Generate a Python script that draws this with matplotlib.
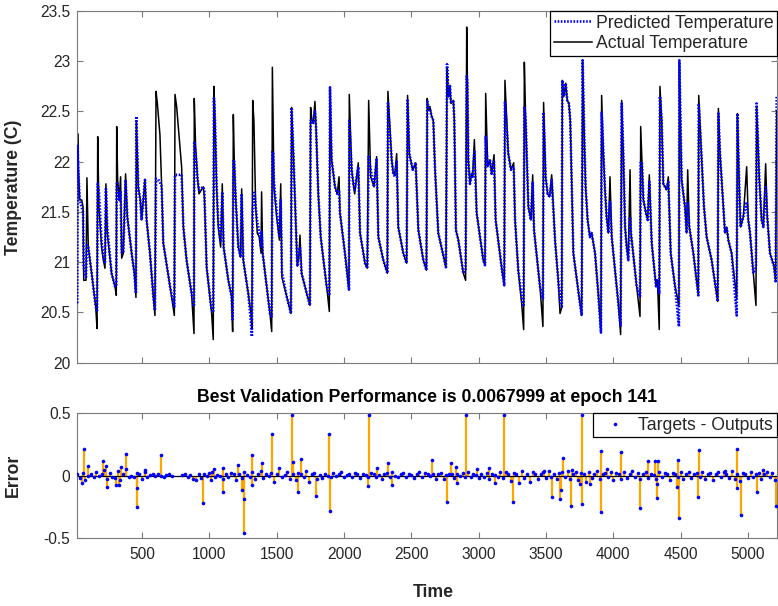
import numpy as np
import matplotlib
matplotlib.use("Agg")
import matplotlib.pyplot as plt
from matplotlib.ticker import FuncFormatter

plt.rcParams['font.family'] = ['Liberation Sans', 'DejaVu Sans']

# ---------------- data ----------------
# time stamps of the line vertices (shared by both temperature traces)
time = [
    15, 19, 22, 27, 37, 52, 62, 67, 84, 91, 101, 126, 156, 166,
    171, 180, 200, 213, 225, 232, 242, 274, 299, 309,
    312, 319, 331, 341, 349, 361, 378, 391, 423, 443, 455,
    458, 472, 487, 497, 522, 534, 559, 584, 596,
    604, 614, 633, 646, 658, 708, 740,
    745, 757, 777, 794, 807, 831, 868, 886,
    888, 898, 913, 923, 955, 963, 980, 1017, 1029,
    1034, 1042, 1054, 1066, 1084, 1096, 1106, 1141, 1165, 1173,
    1178, 1185, 1195, 1215, 1232, 1240, 1252, 1289, 1309, 1316,
    1322, 1331, 1336, 1344, 1356, 1371, 1384, 1388, 1396, 1426, 1450, 1463,
    1468, 1473, 1480, 1500, 1520, 1530, 1539, 1574, 1606,
    1611, 1624, 1641, 1653, 1666, 1673, 1685, 1723, 1747,
    1752, 1762, 1772, 1784, 1792, 1809, 1827, 1871, 1891,
    1896, 1908, 1933, 1950, 1963, 1970, 2007, 2037,
    2039, 2057, 2069, 2079, 2106, 2119, 2156, 2173,
    2183, 2198, 2223, 2242, 2255, 2292, 2322,
    2326, 2354, 2366, 2378, 2391, 2403, 2440, 2465,
    2472, 2485, 2510, 2532, 2552, 2589, 2612,
    2618, 2626, 2638, 2651, 2663, 2676, 2700, 2750, 2757,
    2765, 2775, 2787, 2794, 2812, 2819, 2831, 2849, 2886, 2903,
    2911, 2916, 2923, 2935, 2948, 2955, 2968, 2985, 3034, 3047,
    3052, 3067, 3084, 3096, 3114, 3126, 3176, 3190,
    3195, 3220, 3240, 3260, 3270, 3294, 3319, 3334,
    3339, 3349, 3369, 3388, 3401, 3411, 3455, 3477,
    3482, 3497, 3512, 3527, 3542, 3567, 3591, 3604, 3617,
    3621, 3633, 3646, 3658, 3670, 3680, 3703, 3752, 3765,
    3772, 3784, 3794, 3809, 3826, 3839, 3864, 3888, 3908,
    3913, 3926, 3938, 3950, 3963, 3975, 3988, 4000, 4037, 4054,
    4062, 4074, 4087, 4099, 4111, 4124, 4131, 4173, 4198,
    4203, 4213, 4223, 4242, 4255, 4267, 4285, 4317, 4327, 4341,
    4346, 4359, 4371, 4396, 4408, 4426, 4458, 4487,
    4490, 4507, 4532, 4544, 4552, 4564, 4594, 4631,
    4634, 4656, 4673, 4693, 4730, 4775,
    4780, 4792, 4804, 4829, 4841, 4854, 4878, 4916,
    4921, 4935, 4945, 4965, 4990, 5002, 5015, 5039, 5059,
    5064, 5084, 5101, 5114, 5131, 5143, 5163, 5193, 5205, 5213,
]

actual_temp = [
    20.60, 20.31, 22.28, 21.98, 21.62, 21.62, 21.55, 20.82, 20.82, 21.84, 21.15, 20.89, 20.56, 20.34,
    22.25, 21.55, 21.15, 21.02, 20.94, 21.78, 21.29, 20.89, 20.76, 20.67,
    22.35, 21.82, 21.62, 21.85, 21.04, 21.09, 21.88, 21.45, 21.09, 20.89, 20.65,
    22.40, 21.75, 21.62, 21.42, 21.82, 21.42, 21.09, 20.66, 20.47,
    22.70, 22.58, 22.27, 21.75, 21.19, 20.76, 20.47,
    22.67, 22.55, 22.22, 21.95, 21.35, 21.02, 20.69, 20.29,
    22.63, 22.15, 21.82, 21.68, 21.75, 21.65, 20.95, 20.49, 20.23,
    22.75, 22.41, 21.75, 21.35, 21.15, 21.78, 21.15, 20.82, 20.66, 20.31,
    22.47, 22.02, 21.65, 21.15, 21.05, 21.73, 21.02, 20.69, 20.49, 20.34,
    22.61, 22.41, 22.08, 21.55, 21.29, 21.25, 21.09, 21.70, 21.09, 20.76, 20.49, 20.31,
    22.94, 22.46, 21.75, 21.45, 21.22, 21.78, 20.85, 20.66, 20.49,
    22.54, 22.08, 21.42, 20.96, 21.09, 21.27, 20.89, 20.69, 20.57,
    22.54, 22.41, 22.38, 22.60, 22.35, 21.68, 21.25, 20.76, 20.51,
    22.74, 22.02, 21.75, 21.68, 21.85, 21.49, 21.09, 20.72,
    22.67, 21.92, 21.78, 21.68, 21.99, 21.29, 20.99, 20.94,
    22.61, 21.85, 21.75, 22.05, 21.25, 21.02, 20.89,
    22.70, 22.02, 21.88, 21.88, 22.08, 21.35, 21.09, 20.99,
    22.66, 22.08, 21.92, 21.99, 21.32, 21.02, 20.92,
    22.63, 22.51, 22.55, 22.45, 22.41, 21.92, 21.29, 20.99, 20.95,
    22.93, 22.65, 22.76, 22.58, 22.61, 22.41, 21.32, 21.22, 20.89, 20.82,
    23.34, 22.85, 22.02, 21.78, 21.88, 21.85, 22.22, 21.49, 21.02, 20.97,
    22.68, 21.95, 22.02, 21.88, 22.07, 21.42, 20.89, 20.77,
    22.81, 22.08, 21.92, 21.99, 21.42, 20.92, 20.59, 20.33,
    22.99, 22.41, 21.55, 21.42, 21.87, 21.32, 20.76, 20.36,
    22.59, 21.85, 21.68, 21.65, 21.87, 21.22, 20.82, 20.49, 20.55,
    22.81, 22.65, 22.78, 22.61, 22.58, 22.41, 21.09, 20.59, 20.47,
    23.00, 22.25, 21.75, 21.42, 21.25, 21.29, 21.09, 20.69, 20.30,
    22.66, 22.08, 21.72, 21.45, 21.29, 21.85, 21.25, 21.09, 20.59, 20.28,
    22.61, 22.08, 21.35, 21.15, 21.02, 21.92, 21.29, 20.76, 20.46,
    22.35, 21.98, 21.62, 21.49, 21.42, 21.87, 21.19, 20.76, 20.82, 20.33,
    22.75, 22.41, 21.78, 21.72, 21.85, 21.09, 20.76, 20.57,
    23.00, 21.82, 21.55, 21.29, 21.92, 21.35, 21.09, 20.67,
    22.66, 22.02, 21.55, 21.25, 21.02, 20.61,
    22.53, 22.08, 21.82, 21.29, 21.35, 21.22, 21.09, 20.64,
    22.48, 21.75, 21.35, 21.45, 21.95, 21.42, 21.29, 20.89, 20.57,
    22.55, 21.82, 21.42, 21.35, 21.98, 21.45, 21.09, 20.96, 20.81, 22.50,
]

predicted_temp = [
    20.60, 20.60, 22.17, 21.90, 21.62, 21.55, 21.50, 20.95, 20.85, 21.17, 21.15, 20.89, 20.56, 20.52,
    21.78, 21.70, 21.20, 21.05, 21.00, 21.73, 21.35, 20.89, 20.76, 20.76,
    21.78, 21.78, 21.62, 21.70, 21.10, 21.09, 21.82, 21.45, 21.09, 20.89, 20.69,
    22.45, 21.75, 21.62, 21.42, 21.82, 21.42, 21.09, 20.66, 20.52,
    21.83, 21.83, 21.80, 21.75, 21.19, 20.76, 20.55,
    21.87, 21.87, 21.87, 21.87, 21.35, 21.02, 20.69, 20.56,
    22.20, 22.10, 21.82, 21.72, 21.75, 21.70, 20.95, 20.52, 20.50,
    22.63, 22.41, 21.75, 21.40, 21.20, 21.70, 21.15, 20.82, 20.66, 20.43,
    22.02, 22.00, 21.65, 21.15, 21.05, 21.68, 21.02, 20.69, 20.40, 20.26,
    21.50, 21.69, 21.69, 21.55, 21.40, 21.30, 21.15, 21.30, 21.09, 20.76, 20.49, 20.46,
    22.10, 22.10, 21.80, 21.50, 21.25, 21.62, 20.90, 20.66, 20.49,
    22.54, 22.08, 21.42, 20.96, 21.09, 21.15, 20.89, 20.69, 20.57,
    22.41, 22.41, 22.38, 22.50, 22.35, 21.68, 21.25, 20.76, 20.67,
    22.74, 22.02, 21.75, 21.68, 21.72, 21.49, 21.09, 20.72,
    22.41, 21.92, 21.78, 21.72, 21.95, 21.29, 20.99, 20.94,
    22.05, 21.92, 21.75, 22.02, 21.25, 21.02, 20.89,
    22.58, 22.02, 21.88, 21.85, 22.00, 21.35, 21.09, 20.99,
    22.61, 22.08, 21.92, 21.99, 21.32, 21.02, 20.92,
    22.60, 22.55, 22.52, 22.45, 22.41, 21.92, 21.29, 20.99, 20.95,
    22.97, 22.65, 22.76, 22.58, 22.61, 22.41, 21.32, 21.22, 20.89, 20.92,
    22.85, 22.80, 22.02, 21.78, 21.88, 21.85, 22.10, 21.49, 21.02, 20.97,
    22.25, 21.95, 22.02, 21.88, 22.00, 21.42, 20.89, 20.77,
    22.60, 22.08, 21.92, 21.95, 21.42, 20.92, 20.65, 20.56,
    22.55, 22.41, 21.55, 21.42, 21.80, 21.32, 20.76, 20.64,
    22.49, 21.85, 21.68, 21.65, 21.82, 21.22, 20.82, 20.62, 20.56,
    22.81, 22.65, 22.78, 22.61, 22.58, 22.41, 21.09, 20.59, 20.47,
    23.01, 22.25, 21.75, 21.42, 21.25, 21.29, 21.09, 20.69, 20.30,
    22.49, 22.08, 21.72, 21.45, 21.29, 21.60, 21.25, 21.09, 20.59, 20.36,
    22.58, 22.08, 21.35, 21.15, 21.02, 21.45, 21.29, 20.76, 20.66,
    22.00, 21.98, 21.62, 21.49, 21.42, 21.80, 21.19, 20.76, 20.82, 20.69,
    22.65, 22.41, 21.78, 21.72, 21.80, 21.09, 20.76, 20.36,
    23.01, 21.82, 21.55, 21.29, 21.60, 21.35, 21.09, 20.67,
    22.58, 22.02, 21.55, 21.25, 21.02, 20.61,
    22.48, 22.08, 21.82, 21.29, 21.35, 21.22, 21.09, 20.47,
    22.48, 21.75, 21.35, 21.45, 21.60, 21.42, 21.29, 20.89, 20.95,
    22.58, 21.82, 21.42, 21.35, 21.75, 21.45, 21.09, 20.96, 20.81, 22.65,
]

# large prediction errors (targets - outputs)
spike_time = [
    52, 69, 101, 213, 232, 237, 305, 329, 341, 381, 460, 465, 522, 638,
    955, 1012, 1034, 1099, 1104, 1215, 1245, 1255, 1260, 1316, 1319, 1388,
    1463, 1614, 1618, 1656, 1678, 1792, 1891, 1895, 2180, 2185, 2242, 2329,
    2354, 2651, 2767, 2794, 2832, 2836, 2906, 2985, 3079, 3121, 3190, 3257,
    3485, 3542, 3604, 3611, 3624, 3683, 3695, 3752, 3764, 3769, 3826, 3906,
    3910, 3950, 4054, 4198, 4260, 4309, 4321, 4326, 4334, 4470, 4482, 4485,
    4631, 4638, 4829, 4915, 4920, 4945, 5064, 5108, 5207,
]
spike_error = [
    -0.06, 0.21, 0.076, 0.117, 0.08, -0.09, -0.075, -0.075, 0.065, 0.173, -0.25, -0.10, 0.045, 0.165,
    -0.218, -0.035, 0.05, -0.13, 0.06, 0.085, -0.115, -0.465, -0.19, -0.08, 0.165, 0.10,
    0.334, 0.49, 0.11, -0.13, 0.13, -0.165, 0.33, -0.285, -0.085, 0.49, 0.06, 0.10,
    -0.075, 0.125, -0.21, 0.10, 0.065, -0.06, 0.49, 0.05, 0.06, -0.06, 0.49, -0.21,
    0.04, -0.17, -0.19, -0.12, 0.14, -0.245, 0.045, -0.065, 0.49, -0.23, -0.065, 0.20,
    -0.29, 0.05, 0.19, -0.265, 0.117, 0.12, -0.065, -0.183, 0.117, -0.09, 0.125, -0.345,
    -0.17, 0.205, 0.04, 0.21, -0.10, -0.32, -0.13, 0.045, -0.245,
]

# small residual errors on a regular 20-step sampling grid
residual_start, residual_step = 20, 20
residual_error = [
    0.010, -0.020, 0.020, -0.040, 0.000, 0.015, -0.010, 0.030, -0.005, 0.010,
    0.045, -0.030, 0.020, -0.010, -0.020, 0.035, -0.040, 0.010, 0.050, -0.015,
    0.000, -0.010, 0.020, 0.010, -0.030, 0.030, -0.010, 0.005, 0.015, -0.005,
    0.010, 0.000, -0.010, 0.005, 0.010, -0.005, np.nan, np.nan, np.nan, 0.005,
    0.010, -0.015, 0.005, -0.025, -0.035, 0.010, -0.020, 0.015, -0.005, 0.020,
    0.025, -0.010, 0.005, 0.000, -0.030, 0.010, -0.015, 0.020, 0.010, -0.040,
    0.015, -0.020, 0.030, 0.005, -0.010, 0.025, -0.030, 0.010, 0.040, -0.020,
    0.015, -0.005, 0.020, -0.050, 0.010, 0.060, -0.015, 0.005, 0.030, -0.025,
    0.010, -0.040, 0.020, 0.015, -0.010, 0.035, -0.055, 0.010, 0.020, -0.030,
    0.005, -0.020, 0.015, 0.000, -0.010, 0.020, -0.005, 0.010, 0.030, -0.015,
    0.005, 0.010, -0.010, 0.020, 0.015, -0.020, 0.010, 0.005, -0.015, 0.020,
    0.010, -0.010, 0.005, -0.025, 0.015, 0.020, -0.010, 0.025, 0.000, -0.015,
    0.010, 0.020, -0.010, 0.015, 0.005, -0.020, 0.010, 0.030, -0.010, 0.020,
    0.010, -0.005, 0.015, -0.025, 0.010, 0.020, -0.030, 0.005, 0.015, 0.010,
    -0.020, 0.010, -0.005, 0.020, -0.015, 0.025, -0.010, 0.010, 0.005, -0.020,
    0.015, -0.010, 0.020, -0.030, 0.010, 0.005, -0.015, 0.025, -0.020, 0.030,
    0.015, -0.045, 0.020, 0.010, -0.060, 0.035, -0.020, 0.010, -0.050, 0.025,
    0.015, -0.030, 0.010, 0.030, -0.020, 0.040, -0.010, 0.015, -0.025, 0.020,
    0.030, -0.010, 0.040, -0.030, 0.010, 0.025, -0.040, 0.020, 0.015, -0.050,
    0.030, -0.020, 0.010, 0.040, -0.030, 0.015, 0.020, -0.015, 0.030, -0.040,
    0.020, 0.010, -0.030, 0.025, -0.020, 0.015, 0.040, -0.010, 0.020, -0.030,
    0.010, 0.030, -0.020, 0.015, 0.005, -0.025, 0.030, -0.010, 0.020, 0.010,
    -0.035, 0.020, 0.010, -0.015, 0.025, -0.030, 0.015, 0.030, -0.020, 0.010,
    0.020, -0.010, 0.030, -0.025, 0.015, 0.020, -0.040, 0.010, 0.025, -0.015,
    0.030, 0.010, -0.020, 0.040, -0.030, 0.015, -0.045, 0.020, 0.010, -0.020,
    0.030, -0.015, 0.010, 0.020, -0.030, 0.015, 0.025, -0.010, 0.020, -0.035,
]
residual_time = residual_start + residual_step * np.arange(len(residual_error))

x_ticks = [500, 1000, 1500, 2000, 2500, 3000, 3500, 4000, 4500, 5000]
temp_ticks = [20, 20.5, 21, 21.5, 22, 22.5, 23, 23.5]
error_ticks = [-0.5, 0, 0.5]

# ---------------- styling ----------------
W, H = 778, 606
fig = plt.figure(figsize=(W / 100, H / 100), dpi=100)
fig.patch.set_facecolor('white')

axis_grey = '#262626'
spine_grey = '#7a7a7a'
tick_fs = 11.2
text_fs = 12.7

def px_axes(l, t, r, b):
    return [l / W, 1 - b / H, (r - l) / W, (b - t) / H]

ax1 = fig.add_axes(px_axes(76.7, 11, 776.7, 362.7))
ax2 = fig.add_axes(px_axes(76.7, 413.3, 776.7, 537.7))

def matlab_style(ax):
    for s in ax.spines.values():
        s.set_color(spine_grey)
        s.set_linewidth(0.8)
    ax.tick_params(direction='in', length=4, width=0.8, color=spine_grey,
                   top=True, right=True, labelsize=tick_fs, labelcolor=axis_grey)
    ax.tick_params(axis='y', pad=4.5)
    ax.tick_params(axis='x', pad=7)

# ---- temperature panel ----
matlab_style(ax1)
h_act, = ax1.plot(time, actual_temp, color='black', lw=1.1, zorder=2,
                  label='Actual Temperature')
h_pred, = ax1.plot(time, predicted_temp, color='#0000ff', lw=1.9,
                   linestyle=(0, (0.6, 0.6)), zorder=3,
                   label='Predicted Temperature')
ax1.set_xlim(15, 5213)
ax1.set_ylim(20, 23.5)
ax1.set_xticks(x_ticks)
ax1.set_xticklabels([])
ax1.set_yticks(temp_ticks)
ax1.yaxis.set_major_formatter(FuncFormatter(lambda v, p: f'{v:g}'))
ax1.set_ylabel('Temperature (C)', fontsize=text_fs, fontweight='bold', color=axis_grey)
ax1.yaxis.set_label_coords(-0.078, 0.5)
leg1 = ax1.legend(handles=[h_pred, h_act], loc='upper right', bbox_to_anchor=(1, 1),
                  borderaxespad=0, fontsize=text_fs, handlelength=2.15,
                  handletextpad=0.22, borderpad=0.2, labelspacing=0.2,
                  fancybox=False, framealpha=1, edgecolor='black')
leg1.get_frame().set_linewidth(0.9)
for t in leg1.get_texts():
    t.set_color(axis_grey)

# ---- error panel ----
matlab_style(ax2)
all_err_t = np.concatenate([residual_time, spike_time])
all_err_v = np.concatenate([residual_error, spike_error])
ok = ~np.isnan(all_err_v)
ax2.vlines(all_err_t[ok], 0, all_err_v[ok], colors='#ffa500', lw=1.6, zorder=2)
ax2.axhline(0, color='black', lw=0.9, zorder=2.5)
h_err, = ax2.plot(all_err_t[ok], all_err_v[ok], 'o', color='#0000ff', ms=2.6,
                  mec='none', zorder=3, label='Targets - Outputs')
ax2.set_xlim(15, 5213)
ax2.set_ylim(-0.5, 0.5)
ax2.set_xticks(x_ticks)
ax2.set_yticks(error_ticks)
ax2.yaxis.set_major_formatter(FuncFormatter(lambda v, p: f'{v:g}'))
ax2.set_ylabel('Error', fontsize=text_fs, fontweight='bold', color=axis_grey)
ax2.yaxis.set_label_coords(-0.078, 0.5)
ax2.text(0.509, -0.437, 'Time', transform=ax2.transAxes, ha='center', va='center',
         fontsize=text_fs, fontweight='bold', color=axis_grey)
ax2.text(0.5, 1.131, 'Best Validation Performance is 0.0067999 at epoch 141',
         transform=ax2.transAxes, ha='center', va='center',
         fontsize=text_fs, fontweight='bold', color='black')
leg2 = ax2.legend(handles=[h_err], loc='upper right', bbox_to_anchor=(1, 1),
                  borderaxespad=0, fontsize=text_fs, handlelength=2.1,
                  handletextpad=0.3, borderpad=0.2, markerscale=1.0,
                  fancybox=False, framealpha=1, edgecolor='black')
leg2.get_frame().set_linewidth(0.9)
for t in leg2.get_texts():
    t.set_color(axis_grey)

fig.savefig('out.png', dpi=100, facecolor='white')
